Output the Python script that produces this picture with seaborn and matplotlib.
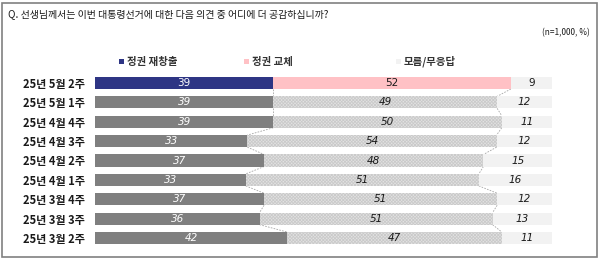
import matplotlib
matplotlib.use("Agg")
import matplotlib.pyplot as plt
import seaborn as sns
import pandas as pd
import numpy as np
from matplotlib.patches import Rectangle

weeks = ["25년 5월 2주", "25년 5월 1주", "25년 4월 4주", "25년 4월 3주", "25년 4월 2주",
         "25년 4월 1주", "25년 3월 4주", "25년 3월 3주", "25년 3월 2주"]
regime_continue = [39, 39, 39, 33, 37, 33, 37, 36, 42]
regime_change = [52, 49, 50, 54, 48, 51, 51, 51, 47]
dont_know = [9, 12, 11, 12, 15, 16, 12, 13, 11]
series_names = ["정권 재창출", "정권 교체", "모름/무응답"]

title = "Q. 선생님께서는 이번 대통령선거에 대한 다음 의견 중 어디에 더 공감하십니까?"
note = "(n=1,000, %)"

sns.set_theme(style="white")
plt.rcParams['font.family'] = ['Noto Sans CJK KR', 'DejaVu Sans']
plt.rcParams['hatch.linewidth'] = 0.6

s1 = np.array(regime_continue, float)
s2 = np.array(regime_change, float)
s3 = np.array(dont_know, float)
tot = s1 + s2 + s3
c1 = s1 / tot * 100
c2 = (s1 + s2) / tot * 100
c3 = (s1 + s2 + s3) / tot * 100
df = pd.DataFrame({"week": weeks, "c1": c1, "c2": c2, "c3": c3})

W, H = 600, 261
fig = plt.figure(figsize=(6, 2.61), dpi=100)
fig.patch.set_facecolor("white")
ax = fig.add_axes([95 / W, 1 - 247.7 / H, 457 / W, 174.4 / H])

bw = 0.62
for col in ["c3", "c2", "c1"]:
    sns.barplot(data=df, x=col, y="week", orient="h", color="#F2F2F2",
                width=bw, linewidth=0, ax=ax, saturation=1)

n = len(weeks)
p3 = ax.patches[0:n]
p2 = ax.patches[n:2 * n]
p1 = ax.patches[2 * n:3 * n]
for i in range(n):
    if i == 0:
        p1[i].set_facecolor("#2E3584")
        p2[i].set_facecolor("#FFC1C5")
        p3[i].set_facecolor("#F2F2F2")
    else:
        p1[i].set_facecolor("#7F7F7F")
        p2[i].set_facecolor("#E2E2E2")
        p2[i].set_edgecolor("#CACACA")
        p2[i].set_hatch("xxxxxxxxxx")
        p2[i].set_linewidth(0)
        p3[i].set_facecolor("#F2F2F2")

# connectors
for i in range(n - 1):
    for b in (c1, c2, c3):
        ax.plot([b[i], b[i + 1]], [i + bw / 2, i + 1 - bw / 2],
                color="#A6A6A6", lw=0.6, ls=(0, (2, 1.5)), zorder=0.5)

# value labels
for i in range(n):
    style = "normal" if i == 0 else "italic"
    segs = [(0, c1[i], regime_continue[i], "white"),
            (c1[i], c2[i], regime_change[i], "#1a1a1a"),
            (c2[i], c3[i], dont_know[i], "#1a1a1a")]
    for a, b, v, colr in segs:
        ax.text((a + b) / 2, i, f"{v}", ha="center", va="center", fontsize=7.5,
                color=colr, fontstyle=style, family=['DejaVu Sans'])

ax.set_xlim(0, 100)
ax.set_ylim(n - 0.5, -0.5)
ax.set_xlabel("")
ax.set_ylabel("")
ax.set_xticks([])
for s in ax.spines.values():
    s.set_visible(False)
ax.tick_params(axis="y", length=0, pad=7)
for t in ax.get_yticklabels():
    t.set_fontsize(8)
    t.set_fontweight("bold")
    t.set_color("#1a1a1a")
ax.set_facecolor("none")

# title & note
fig.text(8 / W, 1 - 14 / H, title, fontsize=7.2, va="center", ha="left", color="#1a1a1a")
fig.text(590 / W, 1 - 33 / H, note, fontsize=6, va="center", ha="right", color="#1a1a1a")

# legend
leg_cols = ["#2E3584", "#FFC1C5", "#F2F2F2"]
leg_x = [119, 244, 396]
for xx, colr, name in zip(leg_x, leg_cols, series_names):
    fig.patches.append(Rectangle((xx / W, 1 - 64 / H), 5 / W, 5 / H,
                                 transform=fig.transFigure, facecolor=colr, edgecolor="none"))
    fig.text((xx + 8) / W, 1 - 61.5 / H, name, fontsize=7.5, fontweight="bold",
             va="center", ha="left", color="#333333")

# border
fig.patches.append(Rectangle((2 / W, 4 / H), 595 / W, 254 / H, transform=fig.transFigure,
                             fill=False, edgecolor="#808080", lw=1.2))

fig.savefig("out.png", dpi=100)
